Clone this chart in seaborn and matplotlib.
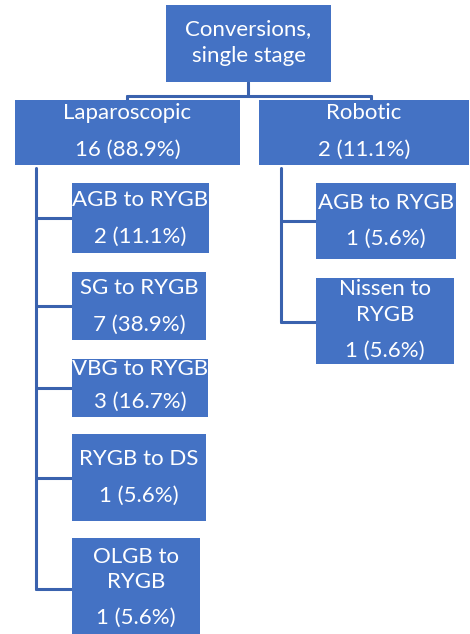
import matplotlib
matplotlib.use("Agg")
import matplotlib.pyplot as plt
import seaborn as sns
from matplotlib.patches import Rectangle

# data
root_label = "Conversions,\nsingle stage"
total = 18
approach_labels = ["Laparoscopic", "Robotic"]
approach_counts = [16, 2]
lap_labels = ["AGB to RYGB", "SG to RYGB", "VBG to RYGB", "RYGB to DS", "OLGB to\nRYGB"]
lap_counts = [2, 7, 3, 1, 1]
rob_labels = ["AGB to RYGB", "Nissen to\nRYGB"]
rob_counts = [1, 1]

BOX = "#4472C4"
LINE = "#3A62AE"
FONT = "Lato"
FS = 16

# layout (pixel space: x0, x1, y0, y1), text line y's and branch y's
root_box = (166, 331, 5, 82)
approach_boxes = [(15, 240, 100, 165), (259, 469, 100, 165)]
lap_boxes = [(72, 209, 183, 253), (72, 206, 272, 340), (72, 208, 359, 417),
             (72, 206, 434, 521), (72, 200, 538, 634)]
lap_text_y = [[200, 237], [288, 325], [369, 402], [459, 496], [557, 582, 618]]
lap_branch_y = [218, 306, 388, 478, 589]
rob_boxes = [(316, 456, 183, 259), (316, 454, 278, 364)]
rob_text_y = [[203, 239], [289, 315, 351]]
rob_branch_y = [221, 322]
trunk_x = [36, 281]


def fmt(n):
    return f"{n} ({n / total * 100:.1f}%)"


def draw_box(ax, box, lines, ys, size=FS):
    x0, x1, y0, y1 = box
    ax.add_patch(Rectangle((x0, y0), x1 - x0, y1 - y0, facecolor=BOX, edgecolor="none", zorder=2))
    for txt, y in zip(lines, ys):
        ax.text((x0 + x1) / 2, y, txt, color="white", ha="center", va="center",
                fontsize=size, family=FONT, zorder=3)


sns.set_theme(style="white")
fig = plt.figure(figsize=(4.7, 6.34), dpi=100)
ax = fig.add_axes([0, 0, 1, 1])
ax.set_xlim(0, 470)
ax.set_ylim(634, 0)
ax.axis("off")

lw = 2.2
# root connectors
ax.plot([248, 248], [82, 96], color=LINE, lw=lw, zorder=1)
ax.plot([127, 371], [96, 96], color=LINE, lw=lw, zorder=1)
ax.plot([127, 127], [96, 100], color=LINE, lw=lw, zorder=1)
ax.plot([371, 371], [96, 100], color=LINE, lw=lw, zorder=1)

draw_box(ax, root_box, root_label.split("\n"), [29, 56])

for box, lab, n in zip(approach_boxes, approach_labels, approach_counts):
    draw_box(ax, box, [lab, fmt(n)], [113, 150])

child_sets = [(lap_boxes, lap_labels, lap_counts, lap_text_y, lap_branch_y, trunk_x[0]),
              (rob_boxes, rob_labels, rob_counts, rob_text_y, rob_branch_y, trunk_x[1])]
for boxes, labels, counts, text_y, branch_y, tx in child_sets:
    for box, lab, n, ys, by in zip(boxes, labels, counts, text_y, branch_y):
        draw_box(ax, box, lab.split("\n") + [fmt(n)], ys)
        ax.plot([tx, box[0]], [by, by], color=LINE, lw=lw, zorder=1)
    ax.plot([tx, tx], [168, branch_y[-1]], color=LINE, lw=lw, zorder=1)

plt.savefig("out.png", dpi=100)
